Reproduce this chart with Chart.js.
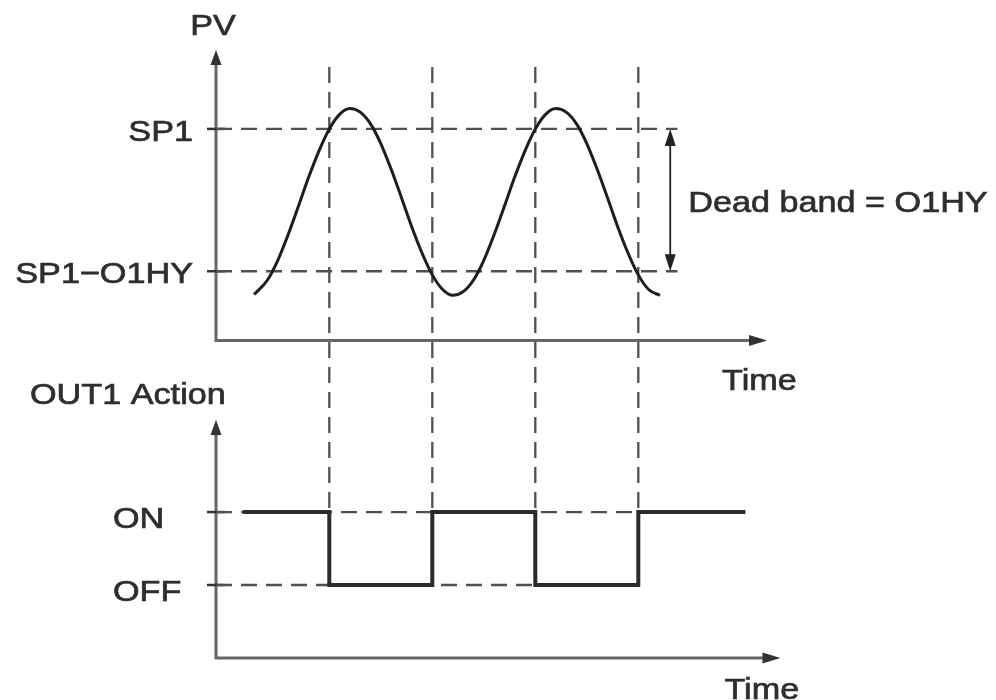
<!DOCTYPE html>
<html>
<head>
<meta charset="utf-8">
<title>OUT1 hysteresis</title>
<script src="https://cdn.jsdelivr.net/npm/chart.js@4.4.1/dist/chart.umd.min.js"></script>
<style>
  html, body { margin: 0; background: #fff; }
  canvas { display: block; }
</style>
</head>
<body>
<canvas id="myChart" width="996" height="700"></canvas>
<script>
// levels on the vertical scale (diagram units)
const SP1 = 72.5;
const SP1_O1HY = 53;
const ON = 20;
const OFF = 10;

// PV curve
const pvTime  = [3.7, 5, 6, 7, 8, 9, 10, 11, 12, 13, 14, 15, 16, 17, 18, 19, 20, 21, 22, 23, 24,
                 25, 26, 27, 28, 29, 30, 31, 32, 33, 34, 35, 36, 37, 38, 39, 40, 41, 42, 43.1];
const pvValue = [49.8, 51.8, 54.5, 58.0, 61.9, 65.9, 69.5, 72.5, 74.5, 75.3, 74.8, 73.2, 70.5, 67.0, 63.1, 59.1, 55.5, 52.5, 50.5, 49.7, 50.2,
                 51.8, 54.5, 58.0, 61.9, 65.9, 69.5, 72.5, 74.5, 75.3, 74.8, 73.2, 70.5, 67.0, 63.1, 59.1, 55.5, 52.5, 50.5, 49.7];

// OUT1 action
const switchTimes = [11, 21, 31, 41];
const outTime  = [2.6, 11, 21, 31, 41, 51.4];
const outState = [ON, OFF, ON, OFF, ON, ON];

// tick labels
const pvLabels  = ['SP1', 'SP1\u2212O1HY'];
const pvLevels  = [SP1, SP1_O1HY];
const outLabels = ['ON', 'OFF'];
const outLevels = [ON, OFF];

// axes (diagram units)
const pvAxisBase = 43.5, pvAxisTop = 83.3, pvAxisEnd = 53.5;
const outAxisBase = 0, outAxisTop = 32.6, outAxisEnd = 54.8;
const guideTop = 81, bandEnd = 44.8, bandArrowAt = 44.1;

const FONT = '30px "Liberation Sans", Arial, sans-serif';
const TEXT = '#2e2e2e';

function pts(xs, ys) { return xs.map((x, i) => ({ x: x, y: ys[i] })); }

const dashed = (data) => ({
    data: data, borderColor: '#505050', borderWidth: 2.3, borderDash: [16, 9],
    pointRadius: 0, tension: 0, fill: false
});

const datasets = [
    { label: 'OUT1', data: pts(outTime, outState), stepped: true, borderColor: '#2b2b2b',
      borderWidth: 4, pointRadius: 0, fill: false },
    { label: 'PV', data: pts(pvTime, pvValue), borderColor: '#1e1e1e', borderWidth: 3,
      pointRadius: 0, tension: 0.4, cubicInterpolationMode: 'monotone', fill: false },
    dashed([{ x: 0, y: SP1 }, { x: bandEnd, y: SP1 }]),
    dashed([{ x: 0, y: SP1_O1HY }, { x: bandEnd, y: SP1_O1HY }]),
    dashed([{ x: 0, y: ON }, { x: switchTimes[3], y: ON }]),
    dashed([{ x: 0, y: OFF }, { x: switchTimes[2], y: OFF }])
];
switchTimes.forEach(t => datasets.push(dashed([{ x: t, y: guideTop }, { x: t, y: ON }])));

function stretchText(ctx, text, x, y, align) {
    ctx.save();
    ctx.translate(x, y);
    ctx.scale(1.14, 1);
    ctx.textAlign = align;
    ctx.textBaseline = 'alphabetic';
    ctx.lineWidth = 0.7;
    ctx.strokeStyle = TEXT;
    ctx.fillText(text, 0, 0);
    ctx.strokeText(text, 0, 0);
    ctx.restore();
}

function arrowHead(ctx, x, y, dir, len, half) {
    // dir: 'up', 'down', 'right'
    ctx.beginPath();
    ctx.moveTo(x, y);
    if (dir === 'up') { ctx.lineTo(x - half, y + len); ctx.lineTo(x + half, y + len); }
    if (dir === 'down') { ctx.lineTo(x - half, y - len); ctx.lineTo(x + half, y - len); }
    if (dir === 'right') { ctx.lineTo(x - len, y - half); ctx.lineTo(x - len, y + half); }
    ctx.closePath();
    ctx.fill();
}

const diagram = {
    id: 'diagram',
    beforeDatasetsDraw(chart) {
        const ctx = chart.ctx, xs = chart.scales.x, ys = chart.scales.y;
        const x0 = xs.getPixelForValue(0);
        ctx.save();
        ctx.strokeStyle = '#666';
        ctx.fillStyle = '#333';
        ctx.lineWidth = 3;
        [[pvAxisBase, pvAxisTop, pvAxisEnd], [outAxisBase, outAxisTop, outAxisEnd]].forEach(a => {
            const yb = ys.getPixelForValue(a[0]), yt = ys.getPixelForValue(a[1]);
            const xe = xs.getPixelForValue(a[2]);
            ctx.beginPath();
            ctx.moveTo(x0, yt + 12);
            ctx.lineTo(x0, yb);
            ctx.lineTo(xe - 12, yb);
            ctx.stroke();
            arrowHead(ctx, x0, yt, 'up', 15, 5.5);
            arrowHead(ctx, xe, yb, 'right', 18, 5.5);
        });
        // small ticks on the vertical axes
        ctx.strokeStyle = '#333';
        ctx.lineWidth = 2.5;
        pvLevels.concat(outLevels).forEach(v => {
            const y = ys.getPixelForValue(v);
            ctx.beginPath();
            ctx.moveTo(x0 - 9, y);
            ctx.lineTo(x0 + 9, y);
            ctx.stroke();
        });
        ctx.restore();
    },
    afterDatasetsDraw(chart) {
        const ctx = chart.ctx, xs = chart.scales.x, ys = chart.scales.y;
        const x0 = xs.getPixelForValue(0);
        ctx.save();
        // dead band arrow
        const xa = xs.getPixelForValue(bandArrowAt);
        const ya = ys.getPixelForValue(SP1), yb = ys.getPixelForValue(SP1_O1HY);
        ctx.strokeStyle = '#222';
        ctx.fillStyle = '#222';
        ctx.lineWidth = 1.8;
        ctx.beginPath();
        ctx.moveTo(xa, ya + 10);
        ctx.lineTo(xa, yb - 10);
        ctx.stroke();
        arrowHead(ctx, xa, ya, 'up', 17, 5.5);
        arrowHead(ctx, xa, yb, 'down', 17, 5.5);

        // texts
        ctx.font = FONT;
        ctx.fillStyle = TEXT;
        pvLabels.forEach((t, i) => stretchText(ctx, t, x0 - 23, ys.getPixelForValue(pvLevels[i]) + 12, 'right'));
        outLabels.forEach((t, i) => stretchText(ctx, t, x0 - 103, ys.getPixelForValue(outLevels[i]) + 16, 'left'));
        stretchText(ctx, 'PV', x0 - 3, ys.getPixelForValue(pvAxisTop) - 15, 'center');
        stretchText(ctx, 'OUT1 Action', 30, ys.getPixelForValue(outAxisTop) - 16, 'left');
        stretchText(ctx, 'Time', xs.getPixelForValue(pvAxisEnd) - 45, ys.getPixelForValue(pvAxisBase) + 49, 'left');
        stretchText(ctx, 'Time', xs.getPixelForValue(outAxisEnd) - 56, ys.getPixelForValue(outAxisBase) + 41, 'left');
        stretchText(ctx, 'Dead band = O1HY', xa + 18, (ya + yb) / 2 + 12, 'left');
        ctx.restore();
    }
};

const ctx = document.getElementById('myChart').getContext('2d');
const myChart = new Chart(ctx, {
    type: 'line',
    data: { datasets: datasets },
    options: {
        responsive: false,
        animation: false,
        layout: { padding: { left: 216, right: 213.5, top: 45, bottom: 42 } },
        plugins: { legend: { display: false }, tooltip: { enabled: false } },
        scales: {
            x: { type: 'linear', min: 0, max: 55, display: false },
            y: { min: 0, max: 84, display: false }
        }
    },
    plugins: [diagram]
});
</script>
</body>
</html>
